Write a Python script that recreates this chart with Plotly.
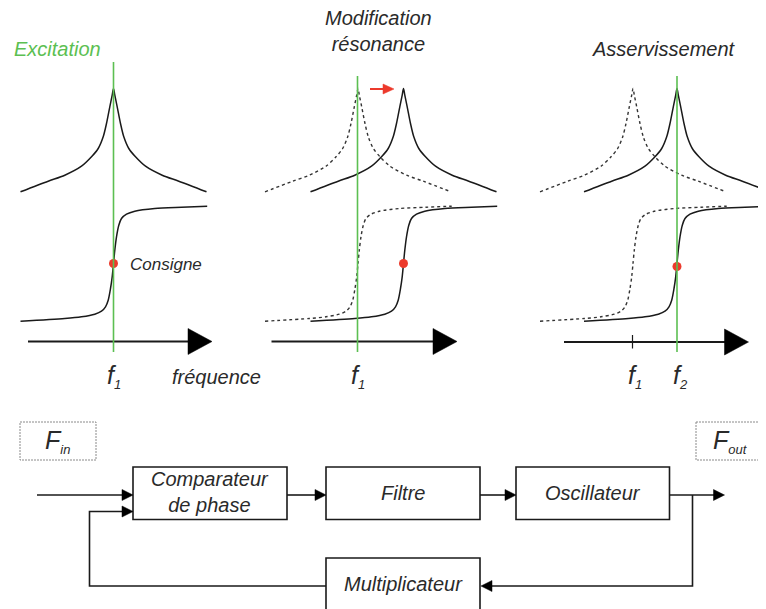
import plotly.graph_objects as go

# ---------------- data ----------------
# resonance curve shape: offsets from the peak (left half, mirrored for right half)
RES_DX_LEFT = [-93, -65.3, -48.7, -32, -22, -15.3, -10.3, -7, -3.7, -1.3, 0]
RES_DY_LEFT = [103.3, 92.7, 86.7, 77.7, 68.3, 60, 48.3, 35, 18.3, 6.7, 0]
# phase curve shape: offsets from the inflection point
PHASE_DX = [-93, -48.7, -32, -18.7, -12, -8, -5.3, -3, -1.3, 0,
            1.3, 3, 5.3, 8, 13, 21.3, 41.3, 68, 93.7]
PHASE_DY = [57.7, 55, 53.3, 50.7, 47.7, 43.3, 36.7, 25, 13.3, 0,
            -13.3, -26.7, -38.3, -45, -49.3, -52.3, -55, -56.3, -57.3]

PANEL_TITLES = ["Excitation", "Modification<br>résonance", "Asservissement"]
# resonance centres per panel: (original f1, shifted resonance)
ORIG_RES = [113.5, 358, 633]
SHIFT_RES = [None, 403.5, 677]
EXCITATION = [113.5, 357.5, 677]
CONSIGNE_Y = [263.5, 263.5, 266.5]
FREQ_LABELS = [["f", "1"], ["f", "1"], ["f", "1", "f", "2"]]
BLOCKS = ["Comparateur<br>de phase", "Filtre", "Oscillateur", "Multiplicateur"]
IO_LABELS = [("F", "in"), ("F", "out")]

# ---------------- layout constants ----------------
OFF = 8  # page body margin of the browser
PEAK_Y = 88.5
MID_Y = 263.5
BLACK = "#1a1a1a"
GREEN = "#5cbf52"
RED = "#ec3a2c"
TXT = "#2a2a2a"
FONT = "Liberation Sans, Arial, sans-serif"

fig = go.Figure()

res_dx = RES_DX_LEFT + [-d for d in reversed(RES_DX_LEFT[:-1])]
res_dy = RES_DY_LEFT + list(reversed(RES_DY_LEFT[:-1]))


def add_res(cx, dash):
    fig.add_trace(go.Scatter(
        x=[cx + d for d in res_dx], y=[PEAK_Y + d for d in res_dy],
        mode="lines", line=dict(color=BLACK if dash == "solid" else "#333",
                                width=1.5 if dash == "solid" else 1.4,
                                dash=dash, shape="spline", smoothing=0.8),
        hoverinfo="skip", showlegend=False))


def add_phase(cx, cy, dash):
    fig.add_trace(go.Scatter(
        x=[cx + d for d in PHASE_DX], y=[cy + d for d in PHASE_DY],
        mode="lines", line=dict(color=BLACK if dash == "solid" else "#333",
                                width=1.5 if dash == "solid" else 1.4,
                                dash=dash, shape="spline", smoothing=0.8),
        hoverinfo="skip", showlegend=False))


DOT = "3px,3px"
shapes = []
annotations = []

# axes per panel
AXES = [(28, 212, 341.5), (271.5, 457, 341.5), (564, 748.5, 342)]

for i in range(3):
    x0, x1, ay = AXES[i]
    shapes.append(dict(type="line", x0=x0, x1=x1 - 22, y0=ay, y1=ay,
                       line=dict(color=BLACK, width=1.8)))
    shapes.append(dict(type="path",
                       path=f"M {x1-24} {ay-13} L {x1} {ay} L {x1-24} {ay+13} Z",
                       fillcolor="black", line=dict(color="black", width=0.5)))

# panel 1
add_res(ORIG_RES[0], "solid")
add_phase(ORIG_RES[0], MID_Y, "solid")
# panel 2
add_res(ORIG_RES[1], DOT)
add_phase(ORIG_RES[1], MID_Y, DOT)
add_res(SHIFT_RES[1], "solid")
add_phase(SHIFT_RES[1], MID_Y, "solid")
# panel 3
add_res(ORIG_RES[2], DOT)
add_phase(ORIG_RES[2], MID_Y, DOT)
add_res(SHIFT_RES[2], "solid")
add_phase(SHIFT_RES[2], MID_Y, "solid")

# green excitation lines
GREEN_TOP = [62, 76, 76]
for i in range(3):
    shapes.append(dict(type="line", x0=EXCITATION[i], x1=EXCITATION[i],
                       y0=GREEN_TOP[i], y1=352, line=dict(color=GREEN, width=1.6)))

# tick at f1 in panel 3
shapes.append(dict(type="line", x0=ORIG_RES[2] - 0.5, x1=ORIG_RES[2] - 0.5, y0=335, y1=348.5,
                   line=dict(color=BLACK, width=1.2)))

# red arrow
shapes.append(dict(type="line", x0=370, x1=385, y0=89, y1=89, line=dict(color=RED, width=2)))
shapes.append(dict(type="path", path="M 383 84 L 394 89 L 383 94 Z",
                   fillcolor=RED, line=dict(color=RED, width=0.5)))

# red dots (consigne)
dot_x = [EXCITATION[0], SHIFT_RES[1], SHIFT_RES[2]]
fig.add_trace(go.Scatter(x=dot_x, y=CONSIGNE_Y, mode="markers",
                         marker=dict(color=RED, size=9, line=dict(width=0)),
                         hoverinfo="skip", showlegend=False))

# titles
annotations.append(dict(x=57, y=49, text="<i>" + PANEL_TITLES[0] + "</i>",
                        font=dict(color=GREEN, size=20, family=FONT)))
annotations.append(dict(x=378, y=31, text="<i>" + PANEL_TITLES[1] + "</i>",
                        font=dict(color=TXT, size=20, family=FONT)))
annotations.append(dict(x=664, y=49, text="<i>" + PANEL_TITLES[2] + "</i>",
                        font=dict(color=TXT, size=20, family=FONT)))
annotations.append(dict(x=128, y=264, text="<i>Consigne</i>", xanchor="left",
                        font=dict(color=TXT, size=17, family=FONT)))
annotations.append(dict(x=216, y=377, text="<i>fréquence</i>",
                        font=dict(color=TXT, size=20, family=FONT)))

SUB = '<sub><span style="font-size:13px">{}</span></sub>'

# frequency labels
FL_X = [[114], [358], [635, 680]]
for i in range(3):
    labs = FREQ_LABELS[i]
    for k, x in enumerate(FL_X[i]):
        annotations.append(dict(x=x, y=376,
                                text=f"<i>{labs[2*k]}{SUB.format(labs[2*k+1])}</i>",
                                font=dict(color=TXT, size=25, family=FONT)))

# ---------------- block diagram ----------------
BOX = [(133, 287, 467, 519.5), (326, 480, 467, 519.5), (516, 669.5, 467, 519.5),
       (326, 480, 558, 620)]
BOX_TXT_Y = [492, 493, 493, 584]
for (x0, x1, y0, y1), lab, ty in zip(BOX, BLOCKS, BOX_TXT_Y):
    shapes.append(dict(type="rect", x0=x0, x1=x1, y0=y0, y1=y1,
                       line=dict(color=BLACK, width=1.6), fillcolor="white"))
    annotations.append(dict(x=(x0 + x1) / 2, y=ty, text="<i>" + lab + "</i>",
                            font=dict(color=TXT, size=20, family=FONT)))


def arrow_right(x_tip, y):
    shapes.append(dict(type="path",
                       path=f"M {x_tip-11} {y-5.5} L {x_tip} {y} L {x_tip-11} {y+5.5} Z",
                       fillcolor="black", line=dict(color="black", width=0.5)))


def arrow_left(x_tip, y):
    shapes.append(dict(type="path",
                       path=f"M {x_tip+11} {y-5.5} L {x_tip} {y} L {x_tip+11} {y+5.5} Z",
                       fillcolor="black", line=dict(color="black", width=0.5)))


def seg(pts):
    p = "M " + " L ".join(f"{x} {y}" for x, y in pts)
    shapes.append(dict(type="path", path=p, line=dict(color=BLACK, width=1.6)))


seg([(37, 495), (123, 495)]); arrow_right(133, 495)
seg([(326, 586), (89.5, 586), (89.5, 511.5), (123, 511.5)]); arrow_right(133, 511.5)
seg([(287, 495), (316, 495)]); arrow_right(326, 495)
seg([(480, 495), (506, 495)]); arrow_right(516, 495)
seg([(669.5, 495), (715, 495)]); arrow_right(724.5, 495)
seg([(692.5, 495), (692.5, 586), (490, 586)]); arrow_left(481, 586)

# input / output dashed boxes
IO_BOX = [(20, 96, 422, 460), (696, 770, 422, 460)]
IO_TXT_X = [57, 730]
for (x0, x1, y0, y1), (big, sub), tx in zip(IO_BOX, IO_LABELS, IO_TXT_X):
    shapes.append(dict(type="rect", x0=x0, x1=x1, y0=y0, y1=y1,
                       line=dict(color="#8a8a8a", width=1, dash="2px,1px")))
    annotations.append(dict(x=tx, y=441, text=f"<i>{big}{SUB.format(sub)}</i>",
                            font=dict(color=TXT, size=25, family=FONT)))

for a in annotations:
    a.update(xref="x", yref="y", showarrow=False)
    a.setdefault("xanchor", "center")
    a.setdefault("yanchor", "middle")

fig.update_layout(
    width=766 - OFF, height=609 - OFF, margin=dict(l=0, r=0, t=0, b=0),
    paper_bgcolor="white", plot_bgcolor="white",
    xaxis=dict(range=[OFF, 766], visible=False, fixedrange=True),
    yaxis=dict(range=[609, OFF], visible=False, fixedrange=True),
    shapes=shapes, annotations=annotations, showlegend=False,
)

fig.write_html("out.html")
